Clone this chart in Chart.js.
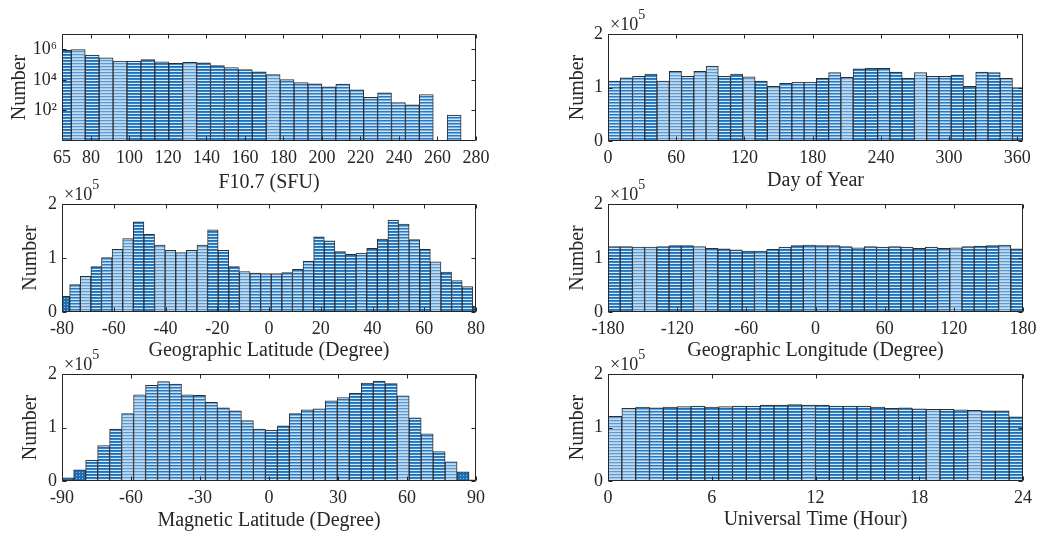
<!DOCTYPE html>
<html>
<head>
<meta charset="utf-8">
<script src="https://cdn.jsdelivr.net/npm/chart.js@4.4.1/dist/chart.umd.min.js"></script>
<style>
  html, body { margin: 0; padding: 0; background: #fff; }
  #wrap { position: relative; width: 1039px; height: 534px; }
  #wrap canvas { position: absolute; left: 0; top: 0; }
</style>
</head>
<body>
<div id="wrap">
  <canvas id="f107" width="1039" height="534"></canvas>
  <canvas id="doy" width="1039" height="534"></canvas>
  <canvas id="glat" width="1039" height="534"></canvas>
  <canvas id="glon" width="1039" height="534"></canvas>
  <canvas id="mlat" width="1039" height="534"></canvas>
  <canvas id="ut" width="1039" height="534"></canvas>
</div>
<script>
// Histogram bins: first edge, bin width and counts per bin
const f107Start = 62.6, f107Width = 7.23;
const f107Counts = [860000, 950000, 410000, 280000, 170000, 170000, 210000, 150000, 120000, 140000,
  130000, 85000, 63000, 47000, 34000, 22000, 10400, 6600, 5600, 3500,
  5300, 2200, 730, 1400, 330, 230, 1100, null, 50];
const f107Ticks = [65, 80, 100, 120, 140, 160, 180, 200, 220, 240, 260, 280];

const doyStart = 0, doyWidth = 10.78;
const doyCounts = [112000, 118000, 121000, 125000, 112000, 130000, 121000, 130000, 140000, 121000,
  125000, 120000, 112000, 102000, 108000, 110000, 110000, 117000, 128000, 119000,
  135000, 136000, 136000, 129000, 117000, 128000, 121000, 121000, 123000, 102000,
  129000, 128000, 117000, 100000];
const doyTicks = [0, 60, 120, 180, 240, 300, 360];

const glatStart = -81.14, glatWidth = 4.1;
const glatCounts = [29000, 51000, 66000, 84000, 101000, 116000, 136000, 167000, 144000, 124000,
  114000, 110000, 114000, 124000, 152000, 114000, 84000, 75000, 72000, 71000,
  71000, 73000, 79000, 94000, 139000, 132000, 112000, 107000, 109000, 118000,
  135000, 170000, 163000, 134000, 116000, 93000, 74000, 58000, 47000, 11000];
const glatTicks = [-80, -60, -40, -20, 0, 20, 40, 60, 80];

const glonStart = -180, glonWidth = 360 / 34;
const glonCounts = [121000, 121000, 120000, 120000, 121000, 123000, 123000, 121000, 118000, 117000,
  115000, 113000, 113000, 116000, 120000, 123000, 124000, 123000, 123000, 121000,
  119000, 121000, 120000, 121000, 120000, 118000, 120000, 118000, 119000, 121000,
  122000, 123000, 124000, 117000];
const glonTicks = [-180, -120, -60, 0, 60, 120, 180];

const mlatStart = -90.14, mlatWidth = 5.21;
const mlatCounts = [6000, 21000, 39000, 66000, 97000, 126000, 161000, 179000, 186000, 181000,
  161000, 160000, 147000, 137000, 131000, 113000, 97000, 95000, 103000, 126000,
  133000, 135000, 150000, 156000, 164000, 183000, 187000, 182000, 159000, 118000,
  88000, 55000, 36000, 17000, 2000];
const mlatTicks = [-90, -60, -30, 0, 30, 60, 90];

const utStart = 0, utWidth = 0.8;
const utCounts = [121000, 136000, 138000, 137000, 138000, 139000, 140000, 138000, 139000, 140000,
  140000, 142000, 142000, 143000, 142000, 142000, 140000, 140000, 140000, 138000,
  136000, 137000, 135000, 134000, 134000, 133000, 132000, 131000, 131000, 120000];
const utTicks = [0, 6, 12, 18, 24];

const countTicks = [0, 100000, 200000];
const logTicks = [1e2, 1e4, 1e6];

Chart.defaults.font.family = '"Liberation Serif", "Times New Roman", serif';
Chart.defaults.color = '#262626';

const PAGE_H = 534, PAGE_W = 1039;
const INK = '#262626';

// hatch-like fills: horizontal stripes, one letter per shade
const makePattern = (rows) => {
  const c = document.createElement('canvas');
  c.width = 4;
  c.height = rows.length;
  const g = c.getContext('2d');
  rows.forEach((col, i) => {
    g.fillStyle = col;
    g.fillRect(0, i, 4, 1);
  });
  return g.createPattern(c, 'repeat');
};
const makeDots = () => {
  const c = document.createElement('canvas');
  c.width = 3;
  c.height = 3;
  const g = c.getContext('2d');
  g.fillStyle = '#1f6fb6';
  g.fillRect(0, 0, 3, 3);
  g.fillStyle = '#8ab9e2';
  g.fillRect(1, 1, 1, 1);
  return g.createPattern(c, 'repeat');
};
const patterns = {
  D: makePattern(['#1f6fb6', '#3685c9', '#d6e7f5']),
  M: makePattern(['#2a79c0', '#75afe0', '#cfe3f4']),
  L: makePattern(['#5c9ad4', '#a6cbeb', '#c4dcf1']),
  X: makeDots(),
};

const sup = { 2: '\u00b2', 4: '\u2074', 6: '\u2076' };

// box around the axes, inward tick marks, and the x10^5 multiplier
const axisBox = {
  id: 'axisBox',
  afterDatasetsDraw(chart, args, opts) {
    const { ctx, chartArea: a, scales: { x, y } } = chart;
    const L = Math.round(a.left) + 0.5, R = Math.round(a.right) - 0.5;
    const T = Math.round(a.top) + 0.5, B = Math.round(a.bottom) - 0.5;
    ctx.save();
    ctx.strokeStyle = INK;
    ctx.lineWidth = 1;
    ctx.beginPath();
    ctx.rect(L, T, R - L, B - T);
    x.ticks.forEach((t) => {
      const px = Math.round(x.getPixelForValue(t.value)) + 0.5;
      ctx.moveTo(px, B); ctx.lineTo(px, B - 4);
      ctx.moveTo(px, T); ctx.lineTo(px, T + 4);
    });
    y.ticks.forEach((t) => {
      const py = Math.round(y.getPixelForValue(t.value)) + 0.5;
      ctx.moveTo(L, py); ctx.lineTo(L + 4, py);
      ctx.moveTo(R, py); ctx.lineTo(R - 4, py);
    });
    ctx.stroke();
    if (opts.exponent) {
      ctx.fillStyle = INK;
      ctx.textBaseline = 'alphabetic';
      ctx.font = '18px "Liberation Serif"';
      ctx.fillText('\u00d710', a.left + 2, a.top - 4);
      const w = ctx.measureText('\u00d710').width;
      ctx.font = '14px "Liberation Serif"';
      ctx.fillText('5', a.left + 2 + w, a.top - 15);
    }
    ctx.restore();
  },
};

const createHistogram = (canvasId, p) => {
  const canvas = document.getElementById(canvasId);
  const context = canvas.getContext('2d');
  const data = p.counts.map((c, i) => ({ x: p.start + p.width * (i + 0.5), y: c }));

  const yAxis = p.log
    ? {
        type: 'logarithmic',
        min: 1,
        max: 1e7,
        afterBuildTicks: (s) => { s.ticks = logTicks.map((v) => ({ value: v })); },
        ticks: { callback: (v) => '10' + sup[Math.round(Math.log10(v))] },
      }
    : {
        type: 'linear',
        min: 0,
        max: 200000,
        afterBuildTicks: (s) => { s.ticks = countTicks.map((v) => ({ value: v })); },
        ticks: { callback: (v) => String(v / 100000) },
      };

  return new Chart(context, {
    type: 'bar',
    data: {
      datasets: [
        {
          data: data,
          backgroundColor: p.shades.split('').map((s) => patterns[s] || 'transparent'),
          borderColor: '#2e2e2e',
          borderWidth: 1,
          barPercentage: 1,
          categoryPercentage: 1,
          clip: 0,
        },
      ],
    },
    options: {
      responsive: false,
      animation: false,
      events: [],
      layout: {
        padding: {
          left: p.yTitleX - 12,
          top: p.area.top,
          right: PAGE_W - p.area.right,
          bottom: PAGE_H - p.xTitleY - 12,
        },
      },
      plugins: {
        legend: { display: false },
        tooltip: { enabled: false },
        axisBox: { exponent: !p.log },
      },
      scales: {
        x: {
          type: 'linear',
          min: p.xMin,
          max: p.xMax,
          offset: false,
          grid: { display: false, drawTicks: false, offset: false },
          border: { display: false },
          afterBuildTicks: (s) => { s.ticks = p.xTicks.map((v) => ({ value: v })); },
          afterFit: (s) => {
            s.height = p.xTitleY + 12 - p.area.bottom;
            s.paddingLeft = 0;
            s.paddingRight = 0;
          },
          ticks: { autoSkip: false, maxRotation: 0, padding: 6, font: { size: 18 }, color: INK, callback: (v) => String(v) },
          title: { display: true, text: p.xTitle, font: { size: 20 }, padding: 0, color: INK },
        },
        y: {
          ...yAxis,
          grid: { display: false, drawTicks: false },
          border: { display: false },
          afterFit: (s) => {
            s.width = p.area.left - (p.yTitleX - 12);
            s.paddingTop = 0;
            s.paddingBottom = 0;
          },
          ticks: { ...yAxis.ticks, padding: 5, font: { size: 18 }, color: INK },
          title: { display: true, text: 'Number', font: { size: 20 }, padding: 0, color: INK },
        },
      },
    },
    plugins: [axisBox],
  });
};

createHistogram('f107', {
  start: f107Start, width: f107Width, counts: f107Counts, log: true,
  shades: 'DLDLLDDDDLDDDDDLMMMMMMMMMMMMM',
  xMin: 65, xMax: 280, xTicks: f107Ticks, xTitle: 'F10.7 (SFU)',
  area: { left: 62, top: 34, right: 476, bottom: 141 }, yTitleX: 20, xTitleY: 183,
});
createHistogram('doy', {
  start: doyStart, width: doyWidth, counts: doyCounts,
  shades: 'MMMDLLMLLDDLDLMMMDMLDDMDDLMMDDMDMD',
  xMin: 0, xMax: 365, xTicks: doyTicks, xTitle: 'Day of Year',
  area: { left: 608, top: 34, right: 1023, bottom: 141 }, yTitleX: 578, xTitleY: 181,
});
createHistogram('glat', {
  start: glatStart, width: glatWidth, counts: glatCounts,
  shades: 'XMLDMLLDDLLLLLDDDLMMMMMMDDDDMDDDMMDLDDDX',
  xMin: -80, xMax: 80, xTicks: glatTicks, xTitle: 'Geographic Latitude (Degree)',
  area: { left: 62, top: 204, right: 476, bottom: 312 }, yTitleX: 31, xTitleY: 351,
});
createHistogram('glon', {
  start: glonStart, width: glonWidth, counts: glonCounts,
  shades: 'DDLLDDDLMDDDMDDDMMMDDDDDDDDMLDDDLD',
  xMin: -180, xMax: 180, xTicks: glonTicks, xTitle: 'Geographic Longitude (Degree)',
  area: { left: 608, top: 204, right: 1023, bottom: 312 }, yTitleX: 578, xTitleY: 351,
});
createHistogram('mlat', {
  start: mlatStart, width: mlatWidth, counts: mlatCounts,
  shades: 'XXDDDLLMMMMMMMMMMDDMMMMMDDDDLDMDLXX',
  xMin: -90, xMax: 90, xTicks: mlatTicks, xTitle: 'Magnetic Latitude (Degree)',
  area: { left: 62, top: 374, right: 476, bottom: 481 }, yTitleX: 31, xTitleY: 521,
});
createHistogram('ut', {
  start: utStart, width: utWidth, counts: utCounts,
  shades: 'LLMMDDDDDDDDDDMDDDDDDDDLDDLDDD',
  xMin: 0, xMax: 24, xTicks: utTicks, xTitle: 'Universal Time (Hour)',
  area: { left: 608, top: 374, right: 1023, bottom: 481 }, yTitleX: 578, xTitleY: 520,
});
</script>
</body>
</html>
